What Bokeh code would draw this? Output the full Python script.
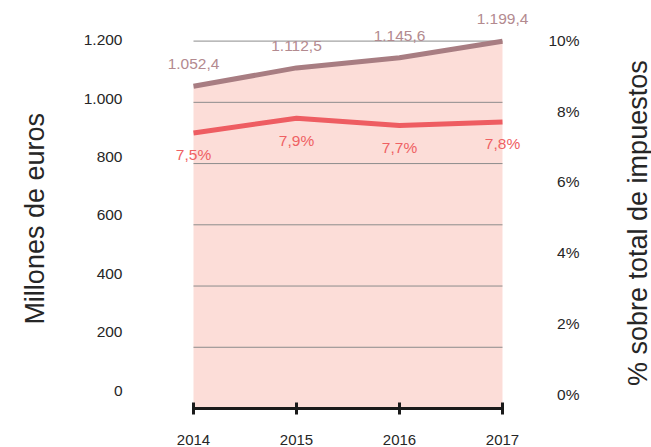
import math
from bokeh.plotting import figure
from bokeh.models import Range1d, LinearAxis, FixedTicker, ColumnDataSource, LabelSet
from bokeh.core.properties import value
from bokeh.embed import file_html
from bokeh.resources import INLINE

# ---- data ----
years = [2014, 2015, 2016, 2017]
millones = [1052.4, 1112.5, 1145.6, 1199.4]
porcentaje = [7.5, 7.9, 7.7, 7.8]
left_ticks = [0, 200, 400, 600, 800, 1000, 1200]
left_tick_labels = ["0", "200", "400", "600", "800", "1.000", "1.200"]
right_ticks = [0, 2, 4, 6, 8, 10]
right_tick_labels = ["0%", "2%", "4%", "6%", "8%", "10%"]
left_title = "Millones de euros"
right_title = "% sobre total de impuestos"

# ---- style ----
FONT = "Liberation Sans"
MAUVE = "#a87d82"
MAUVE_TXT = "#b38a8f"
RED = "#ee5d62"
RED_TXT = "#ef6163"
PINK = "#fcddd8"
GRID = "#8c8c8c"
TXT = "#262626"
AXIS = "#1a1a1a"
NB = "\u00a0"


def fmt_mill(v):
    s = f"{v:,.1f}"
    return s.replace(",", "X").replace(".", ",").replace("X", ".")


def fmt_pct(v):
    return f"{v:.1f}".replace(".", ",") + "%"


# x range: the frame runs to the right edge; right-hand axes are pinned at XR
X0, X1 = 2013.6602, 2018.4466
XR = 2017.3204
p = figure(width=651, height=447, output_backend="svg", toolbar_location=None,
           x_range=Range1d(X0, X1), y_range=Range1d(0, 1332.6),
           x_axis_location=None, y_axis_location=None,
           min_border_left=158, min_border_right=0,
           min_border_top=0, min_border_bottom=35,
           outline_line_color=None, background_fill_color="white")
p.xgrid.visible = False
p.ygrid.visible = False

p.extra_y_ranges = {
    "pct": Range1d(0, 11.105),
    "left_lbl": Range1d(-61.02, 1335.6),
    "right_lbl": Range1d(-0.391, 11.117),
}

# area, gridlines, lines
p.varea(x=years, y1=0, y2=millones, fill_color=PINK, level="image")
grid_vals = left_ticks[1:]
p.segment(x0=[years[0]] * len(grid_vals), x1=[years[-1]] * len(grid_vals),
          y0=grid_vals, y1=grid_vals, line_color=GRID, line_width=1, level="underlay")
p.line(years, millones, line_width=5, line_color=MAUVE)
p.line(years, porcentaje, line_width=5, line_color=RED, y_range_name="pct")

# data labels
src_m = ColumnDataSource(dict(x=years, y=millones, t=[fmt_mill(v) for v in millones]))
src_p = ColumnDataSource(dict(x=years, y=porcentaje, t=[fmt_pct(v) for v in porcentaje]))
p.add_layout(LabelSet(x="x", y="y", text="t", source=src_m, y_offset=22,
                      text_align="center", text_baseline="middle",
                      text_color=MAUVE_TXT, text_font=value(FONT), text_font_size="15.5px"))
p.add_layout(LabelSet(x="x", y="y", text="t", source=src_p, y_offset=-22,
                      y_range_name="pct",
                      text_align="center", text_baseline="middle",
                      text_color=RED_TXT, text_font=value(FONT), text_font_size="15.5px"))

# bottom axis
xa = LinearAxis(ticker=FixedTicker(ticks=years), bounds=(years[0], years[-1]),
                axis_line_color=AXIS, axis_line_width=3,
                major_tick_line_color=AXIS, major_tick_line_width=3,
                major_tick_in=6, major_tick_out=6,
                minor_tick_line_color=None,
                major_label_standoff=20,
                major_label_text_font=FONT, major_label_text_font_size="15px",
                major_label_text_color=TXT)
p.add_layout(xa, "below")

# left axis (tick labels + title)
ya = LinearAxis(y_range_name="left_lbl", ticker=FixedTicker(ticks=left_ticks),
                major_label_overrides=dict(zip(left_ticks, left_tick_labels)),
                axis_line_color=None, major_tick_line_color=None, minor_tick_line_color=None,
                major_tick_in=0, major_tick_out=0,
                major_label_standoff=36,
                major_label_text_font=FONT, major_label_text_font_size="15.5px",
                major_label_text_color=TXT,
                axis_label=left_title + NB * 15, axis_label_standoff=46,
                axis_label_orientation=math.pi / 2, axis_label_align="end",
                axis_label_text_font=FONT, axis_label_text_font_size="27px",
                axis_label_text_font_style="normal", axis_label_text_color=TXT)
p.add_layout(ya, "left")

# right axis tick labels (padded so they read right-aligned), pinned at XR
ra = LinearAxis(y_range_name="right_lbl", ticker=FixedTicker(ticks=right_ticks),
                fixed_location=XR,
                major_label_overrides={t: (l if len(l) > 2 else NB * 2 + l)
                                       for t, l in zip(right_ticks, right_tick_labels)},
                axis_line_color=None, major_tick_line_color=None, minor_tick_line_color=None,
                major_tick_in=0, major_tick_out=0,
                major_label_standoff=13,
                major_label_text_font=FONT, major_label_text_font_size="15.5px",
                major_label_text_color=TXT)
p.add_layout(ra, "right")

# right title: title-only axis pinned at XR
rt = LinearAxis(y_range_name="right_lbl", ticker=FixedTicker(ticks=[]),
                fixed_location=XR,
                axis_line_color=None, major_tick_line_color=None, minor_tick_line_color=None,
                major_tick_in=0, major_tick_out=0,
                major_label_text_font_size="0px",
                axis_label=NB * 3 + right_title, axis_label_standoff=102,
                axis_label_orientation=math.pi / 2, axis_label_align="start",
                axis_label_text_font=FONT, axis_label_text_font_size="27px",
                axis_label_text_font_style="normal", axis_label_text_color=TXT)
p.add_layout(rt, "right")

open("out.html", "w").write(file_html(p, INLINE))
